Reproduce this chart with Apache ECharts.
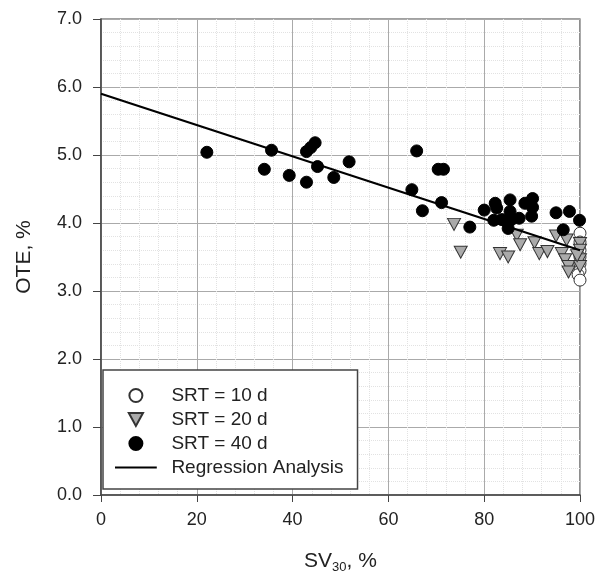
<!DOCTYPE html>
<html>
<head>
<meta charset="utf-8">
<script src="https://cdn.jsdelivr.net/npm/echarts@6/dist/echarts.min.js"></script>
<style>html,body{margin:0;padding:0;background:#fff}#c{width:605px;height:581px}</style>
</head>
<body>
<div id="c"></div>
<script>
// SRT = 10 d (open circles)
const srt10 = [[100,3.85],[100,3.72],[100,3.6],[100,3.5],[100,3.4],[100,3.3],[99.6,3.24],[100,3.16]];
// SRT = 20 d (grey down triangles)
const srt20 = [[73.7,3.98],[75.1,3.57],[83.3,3.55],[85.0,3.50],[86.8,3.82],[87.5,3.68],[90.5,3.71],[91.5,3.55],[93.2,3.58],[95.0,3.81],[97.2,3.75],[96.2,3.55],[96.9,3.46],[97.6,3.36],[97.6,3.28],[100,3.70],[100,3.60],[100,3.46],[100,3.36],[99.4,3.52]];
// SRT = 40 d (filled circles)
const srt40 = [[22.1,5.04],[35.6,5.07],[34.1,4.79],[39.3,4.70],[42.9,4.60],[42.9,5.05],[43.8,5.11],[44.7,5.18],[45.2,4.83],[48.6,4.67],[51.8,4.90],
  [65.9,5.06],[70.4,4.79],[71.5,4.79],[64.9,4.49],[71.1,4.30],[67.1,4.18],[77.0,3.94],[80.0,4.19],[82.3,4.29],[82.6,4.22],[82.0,4.04],[83.7,4.05],
  [85.4,4.34],[85.4,4.17],[85.0,3.92],[85.7,4.05],[87.3,4.07],[88.5,4.29],[90.1,4.36],[90.1,4.23],[89.9,4.10],[95.0,4.15],[97.8,4.17],[99.9,4.04],[96.5,3.90]];
// Regression line end points
const regression = [[0,5.90],[100,3.60]];
const xTicks = [0,20,40,60,80,100];
const yTicks = [0,1,2,3,4,5,6,7];

const triDown = 'path://M0,0 L12,0 L6,11 Z';
const lineIcon = 'path://M0,0 L0.01,0 L0.01,0.01 Z M0,6 L45,6 L45,8 L0,8 Z M44.99,13.99 L45,13.99 L45,14 Z';
const font = 'Liberation Sans, Arial, sans-serif';
const chart = echarts.init(document.getElementById('c'), null, {renderer:'canvas'});
chart.setOption({
  animation:false,
  backgroundColor:'#fff',
  grid:{left:101,right:25,top:19,bottom:86,show:true,borderColor:'#444',borderWidth:1.2},
  xAxis:{type:'value',min:0,max:100,interval:20,
    axisLine:{show:true,lineStyle:{color:'#444',width:1.5}},
    axisTick:{show:true,inside:false,length:7,lineStyle:{color:'#444'}},
    axisLabel:{color:'#222',fontSize:18,fontFamily:font,margin:16},
    splitLine:{show:true,lineStyle:{color:'#aaa',width:1}},
    minorTick:{show:false,splitNumber:5},
    minorSplitLine:{show:true,lineStyle:{color:'#e2e2e2',type:'dotted',width:1}},
    name:'{a|SV}{s|30}{a|, %}',nameLocation:'middle',nameGap:54,
    nameTextStyle:{rich:{a:{fontSize:21,fontFamily:font,color:'#222'},s:{fontSize:13,fontFamily:font,color:'#222',verticalAlign:'bottom',padding:[12,0,0,0]}}}
  },
  yAxis:{type:'value',min:0,max:7,interval:1,
    axisLine:{show:true,lineStyle:{color:'#444',width:1.5}},
    axisTick:{show:true,inside:false,length:8,lineStyle:{color:'#444'}},
    axisLabel:{color:'#222',fontSize:18,fontFamily:font,margin:19,formatter:v=>v.toFixed(1)},
    splitLine:{show:true,lineStyle:{color:'#aaa',width:1}},
    minorTick:{show:false,splitNumber:5},
    minorSplitLine:{show:true,lineStyle:{color:'#e2e2e2',type:'dotted',width:1}},
    name:'OTE, %',nameLocation:'middle',nameGap:66,
    nameTextStyle:{fontSize:21,fontFamily:font,color:'#222'}
  },
  legend:{orient:'vertical',left:103,top:370,
    backgroundColor:'#fff',borderColor:'#444',borderWidth:1.5,
    padding:[16,14,12,12],itemGap:5,itemWidth:45,itemHeight:13,
    textStyle:{fontSize:19,fontFamily:font,color:'#222',padding:[0,0,0,8],lineHeight:18},
    data:[{name:'SRT = 10 d'},{name:'SRT = 20 d'},{name:'SRT = 40 d'},{name:'Regression Analysis',icon:lineIcon}]
  },
  series:[
    {name:'SRT = 10 d',type:'scatter',data:srt10,symbol:'circle',symbolSize:12,
      itemStyle:{color:'#fff',borderColor:'#333',borderWidth:1,opacity:1},z:2},
    {name:'SRT = 20 d',type:'scatter',data:srt20,symbol:triDown,symbolSize:[13,12],
      itemStyle:{color:'#aaa',borderColor:'#333',borderWidth:1,opacity:1},z:3},
    {name:'SRT = 40 d',type:'scatter',data:srt40,symbol:'circle',symbolSize:12,
      itemStyle:{color:'#000',borderColor:'#000',borderWidth:1,opacity:1},z:4},
    {name:'Regression Analysis',type:'line',data:regression,symbol:'none',
      lineStyle:{color:'#000',width:2.2},itemStyle:{color:'#000'},z:5}
  ]
});
</script>
</body>
</html>
